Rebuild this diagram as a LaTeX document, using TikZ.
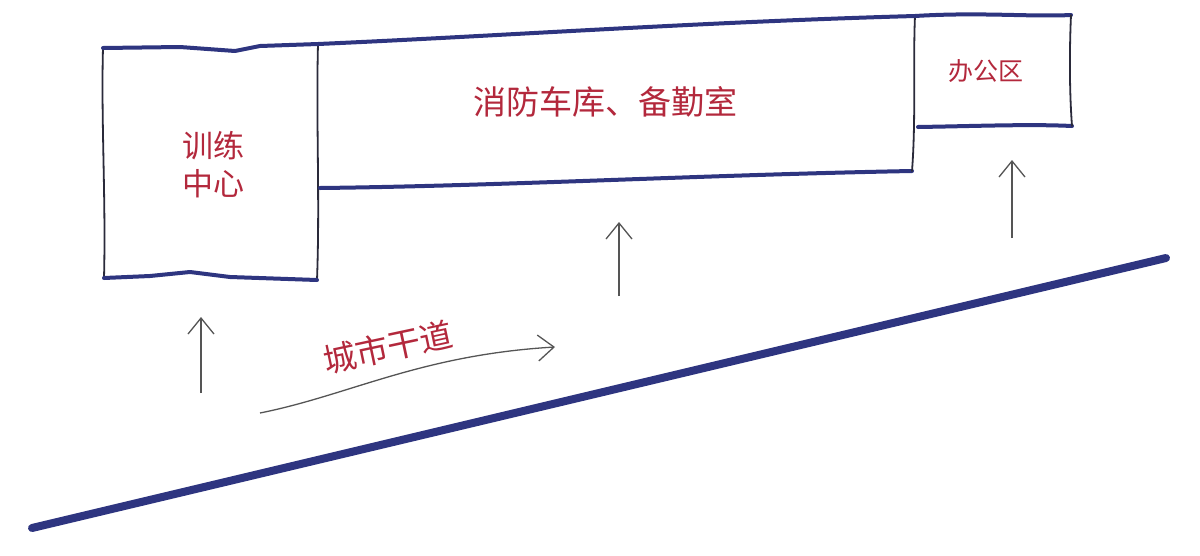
\documentclass[tikz,border=0pt]{standalone}
\usepackage{fontspec}
\newfontfamily\cjk{Noto Sans CJK SC}
\usetikzlibrary{arrows.meta}
\definecolor{navy}{HTML}{2E3580}
\definecolor{ink}{HTML}{2A2A3A}
\definecolor{lbl}{HTML}{B3283C}
\definecolor{pen}{HTML}{555555}
\tikzset{
  thick edge/.style={draw=navy, line width=4pt, line cap=round, line join=round},
  thin edge/.style={draw=ink, line width=1.8pt, line cap=round, line join=round},
  road/.style={draw=navy, line width=8pt, line cap=round},
  flow/.style={draw=pen, line width=1.3pt, -{Straight Barb[length=16pt,width=26pt]}},
  lab/.style={text=lbl, font=\cjk, align=center, inner sep=0pt}
}
\begin{document}
\begin{tikzpicture}[x=1pt,y=-1pt]
\useasboundingbox (0,0) rectangle (1200,555);
\fill[white] (0,0) rectangle (1200,555);
% training centre
\draw[thin edge] (103,48) .. controls (101,120) and (106,200) .. (104,278);
\draw[thin edge] (318,44) .. controls (316,120) and (320,200) .. (317,280);
\draw[thick edge] (103,48) -- (180,47) -- (235,51) -- (260,46) -- (318,44);
\draw[thick edge] (104,278) -- (150,276) -- (190,272) -- (230,277) -- (317,280);
% garage
\draw[thick edge] (318,44) .. controls (500,36) and (700,22) .. (915,16);
\draw[thick edge] (320,188) .. controls (500,186) and (700,175) .. (912,171);
\draw[thin edge] (915,16) .. controls (913,60) and (916,120) .. (912,171);
% office
\draw[thick edge] (915,16) .. controls (980,12) and (1030,17) .. (1071,15);
\draw[thick edge] (918,127) .. controls (980,126) and (1030,124) .. (1072,126);
\draw[thin edge] (1071,15) .. controls (1069,60) and (1070,100) .. (1072,126);
% labels
\node[lab, font=\cjk\fontsize{31}{38}\selectfont] (train) at (213,165) {训练\\中心};
\node[lab, font=\cjk\fontsize{33}{38}\selectfont] (garage) at (605,102) {消防车库、备勤室};
\node[lab, font=\cjk\fontsize{25}{30}\selectfont] (office) at (986,71) {办公区};
\node[lab, font=\cjk\fontsize{33}{38}\selectfont, rotate=12] (street) at (388,347) {城市干道};
% arrows
\coordinate (a1s) at (201,393); \coordinate (a1e) at (201,317);
\coordinate (a2s) at (619,296); \coordinate (a2e) at (619,222);
\coordinate (a3s) at (1012,238); \coordinate (a3e) at (1012,160);
\draw[flow] (a1s) -- (a1e);
\draw[flow] (a2s) -- (a2e);
\draw[flow] (a3s) -- (a3e);
\coordinate (rs) at (260,413); \coordinate (re) at (555,347);
\draw[flow] (rs) .. controls (350,395) and (420,355) .. (re);
% road
\coordinate (r1) at (32,528); \coordinate (r2) at (1166,258);
\draw[road] (r1) -- (r2);
\end{tikzpicture}
\end{document}
